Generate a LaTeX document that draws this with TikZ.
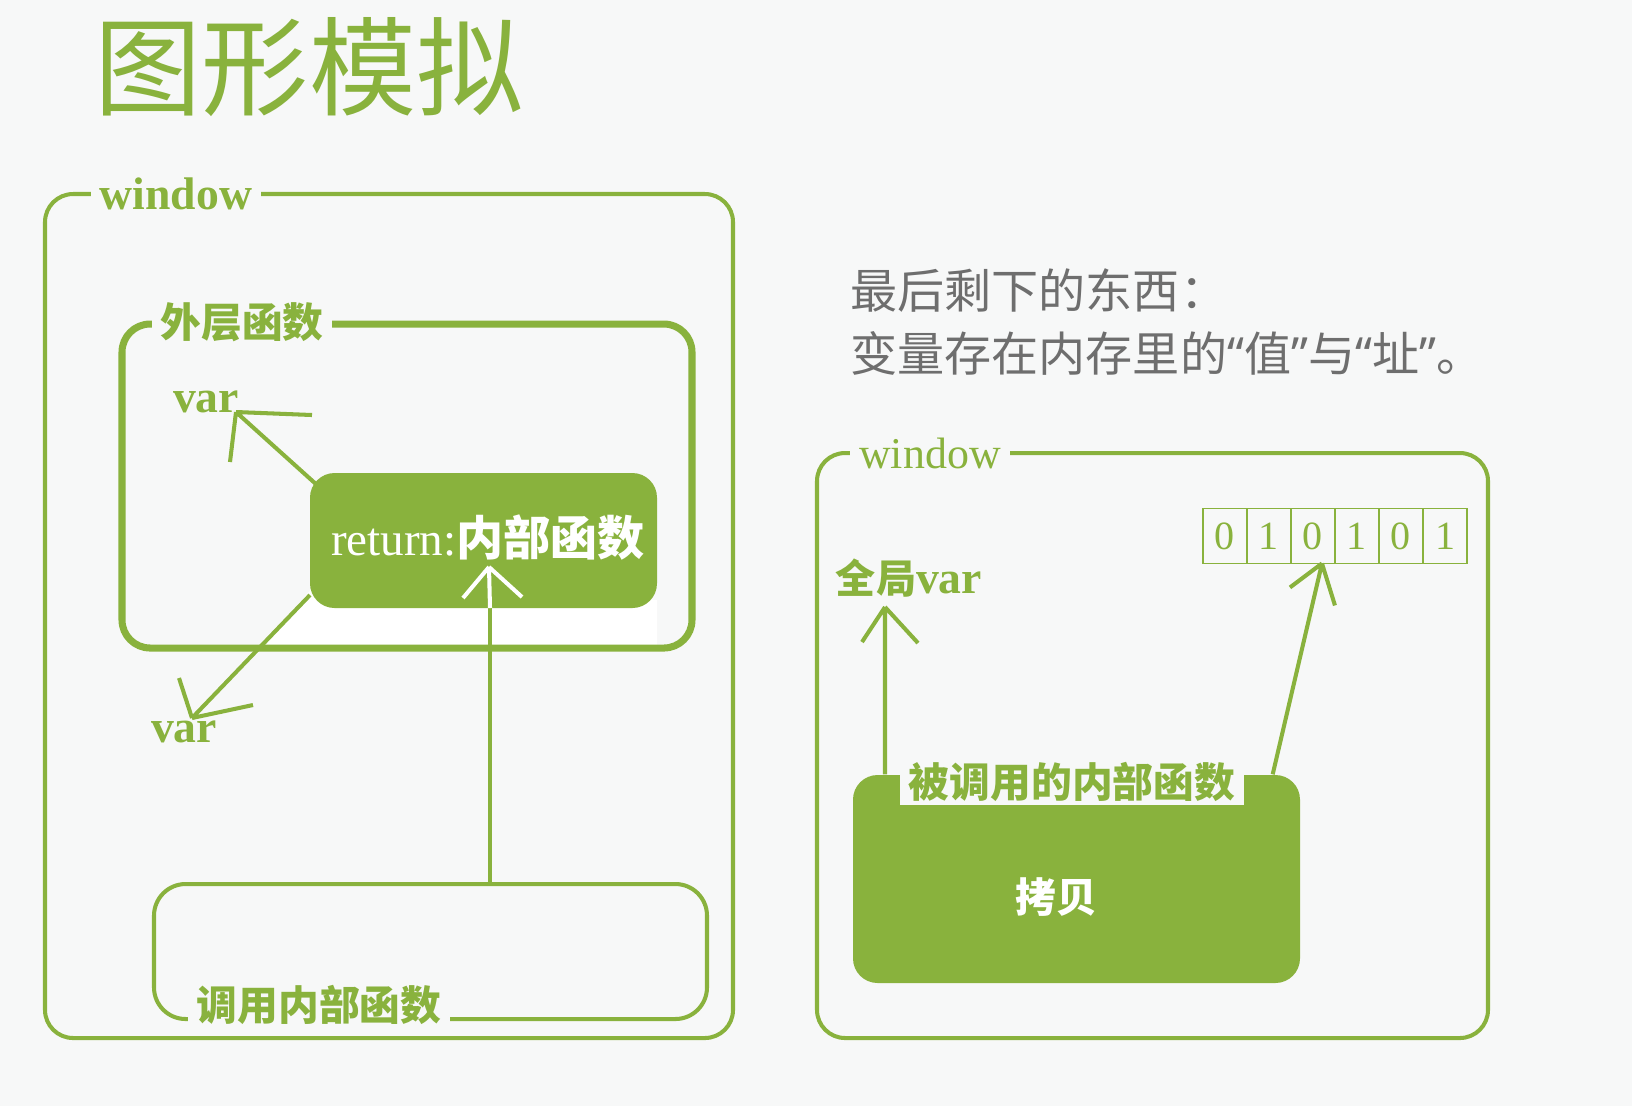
\documentclass[tikz,border=0pt]{standalone}
\usepackage{fontspec}
\setmainfont{Liberation Serif}
\newfontfamily\cjk{Noto Sans CJK SC}
\newfontfamily\quotefont{Noto Sans}
\usetikzlibrary{fit,calc}

\definecolor{leaf}{RGB}{137,178,61}
\definecolor{paper}{RGB}{247,248,248}
\definecolor{ink}{RGB}{110,110,110}
\newcommand{\cjkbf}{\cjk\bfseries}
\newcommand{\sz}[1]{\fontsize{#1}{#1}\selectfont}
\newcommand{\openq}{{\quotefont “}}
\newcommand{\closeq}{{\quotefont ”}}

\tikzset{
  frame/.style={draw=leaf, line width=1.15pt, rounded corners=8pt, inner sep=0pt},
  thickframe/.style={frame, line width=2pt},
  slab/.style={fill=leaf, rounded corners=7pt, inner sep=0pt},
  tag/.style={fill=paper, text=leaf, inner xsep=2.5pt, inner ysep=1pt},
  pen/.style={draw=leaf, line width=1.15pt},
  cellbox/.style={draw=leaf, line width=0.45pt, minimum width=12.5pt, minimum height=15.6pt,
    inner sep=0pt, outer sep=0pt, text=leaf, font=\sz{11.4pt}}
}

\begin{document}
\begin{tikzpicture}[x=0.1mm, y=-0.1mm]
    \fill[paper] (0,0) rectangle (1632,1106);
    \useasboundingbox (0,0) rectangle (1632,1106);
    \node[text=leaf, font=\cjk\sz{30.5pt}] (title) at (309,67) {图形模拟};

    % left: outer function returns the inner one
    \node[frame, fit={(45,194) (733,1038)}] (leftwin) {};
    \node[tag, font=\bfseries\sz{13pt}] (leftwinlbl) at (176,194) {window};
    \fill[white] (312,588) -- (264,645) -- (657,645) -- (657,600) -- cycle;
    \node[thickframe, fit={(122,324) (692,648)}] (outerfn) {};
    \node[tag, font=\cjkbf\sz{11.6pt}] (outerfnlbl) at (242,322) {外层函数};
    \node[text=leaf, font=\bfseries\sz{13pt}] (varup) at (206,402) {var};
    \node[text=leaf, font=\bfseries\sz{13pt}] (vardown) at (184,732) {var};
    \node[frame, rounded corners=9pt, fit={(154,884) (707,1019)}] (callbox) {};
    \node[tag, font=\cjkbf\sz{11.6pt}] (callboxlbl) at (319,1005) {调用内部函数};
    \coordinate (retA) at (317,485);
    \coordinate (retB) at (310,595);
    \coordinate (uptip) at (236,412);
    \coordinate (downtip) at (192,718);
    \draw[pen] (retA) -- (uptip) (uptip) -- +(76,3) (uptip) -- +(-6,50);
    \draw[pen] (retB) -- (downtip) (downtip) -- +(-13,-40) (downtip) -- +(61,-13);
    \node[slab, fit={(310,473) (657,608)}] (retbox) {};
    \node[text=white, font=\sz{13.4pt}] (rettxt) at (488,537) {return:{\cjkbf 内部函数}};
    \coordinate (retbot) at (490,608);
    \coordinate (rettip) at (489,567);
    \draw[pen] (retbot |- callbox.north) -- (retbot);
    \draw[pen, draw=white] (retbot) -- (rettip) (rettip) -- +(-26,31) (rettip) -- +(33,30);

    % right: what is left over
    \node[anchor=west, text=ink, font=\cjk\sz{13.4pt}] (rest1) at (838,290) {最后剩下的东西：};
    \node[anchor=west, text=ink, font=\cjk\sz{13.4pt}] (rest2) at (838,353) {变量存在内存里的\openq 值\closeq 与\openq 址\closeq 。};
    \node[frame, fit={(817,453) (1488,1038)}] (rightwin) {};
    \node[tag, font=\sz{12.5pt}] (rightwinlbl) at (930,453) {window};
    \foreach \b [count=\i] in {0,1,0,1,0,1}
        \node[cellbox] (cell\i) at ({1181+44*\i},536) {\b};
    \node[text=leaf, font=\sz{13pt}] (globvar) at (909,578) {{\cjkbf\sz{11.4pt}全局}\textbf{var}};
    \node[slab, fit={(853,775) (1300,983)}] (copybox) {};
    \node[text=white, font=\cjkbf\sz{11.6pt}] (copytxt) at (1056,897) {拷贝};
    \node[tag, anchor=south, font=\cjkbf\sz{11.6pt}] (copylbl) at (1072,806) {被调用的内部函数};
    \coordinate (globtip) at (885,607);
    \coordinate (celltip) at ($(cell3.south east)+(-13,0)$);
    \coordinate (copyNE) at ($(copybox.north east)+(-28,0)$);
    \draw[pen] (globtip |- copybox.north) -- (globtip) (globtip) -- +(-23,35) (globtip) -- +(33,36);
    \draw[pen] (copyNE) -- (celltip) (celltip) -- +(-32,24) (celltip) -- +(13,42);
\end{tikzpicture}
\end{document}
